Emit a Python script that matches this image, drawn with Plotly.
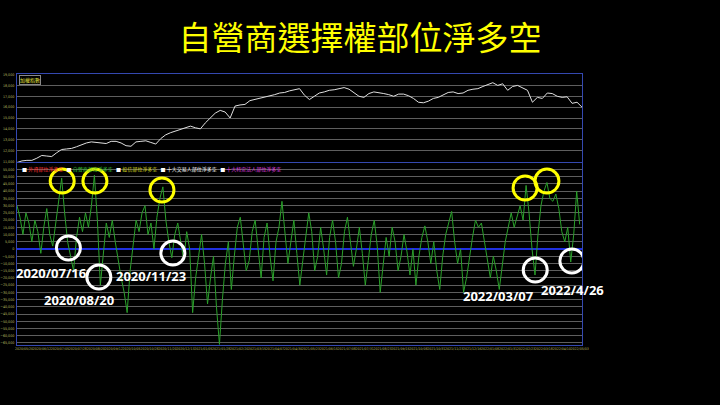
import pandas as pd
import plotly.graph_objects as go
from plotly.subplots import make_subplots

# ---------------- data ----------------
index_start, index_end = "2020-05-11", "2022-05-06"
net_start, net_end = "2020-05-11", "2022-05-03"

index_values = [10900, 11050, 11100, 11100, 11300, 11550, 11500, 11450, 11800, 12100,
                12150, 12200, 12350, 12550, 12700, 12800, 12750, 12700, 12650, 12850,
                12850, 12700, 12450, 12400, 12800, 12850, 12900, 12750, 12600, 13100,
                13450, 13650, 13800, 13950, 14150, 14250, 14100, 14000, 14550, 15000,
                15450, 15700, 15550, 15000, 16100, 16200, 16250, 16600, 16700, 16850,
                16900, 17050, 17150, 17300, 17350, 17500, 17600, 17700, 17100, 16700,
                17000, 17300, 17400, 17550, 17600, 17700, 17800, 17650, 17350, 17000,
                16900, 17250, 17400, 17350, 17250, 17150, 17000, 17200, 17200, 17050,
                16800, 16450, 16400, 16550, 16800, 16900, 17100, 17350, 17400, 17250,
                17300, 17550, 17650, 17700, 17900, 18100, 18250, 18000, 18150, 17550,
                17900, 18000, 17800, 17550, 16450, 16900, 16800, 17300, 17250, 17000,
                16900, 16950, 16350, 16450, 16000]

dealer_net = [30000, 22000, 10000, 25000, 18000, 5000, 20000, 12000, -3000, 15000,
              28000, 10000, 2000, 18000, 30000, 49000, 25000, 5000, -5000, -15000,
              8000, 22000, 12000, 25000, 15000, 30000, 51000, 20000, -25000, -5000,
              18000, 8000, 20000, 5000, -8000, -20000, -30000, -44000, -15000, 5000,
              20000, 12000, 25000, 30000, 10000, 18000, 0, 22000, 35000, 43000,
              20000, 5000, -6000, 10000, 18000, 5000, -8000, 12000, 0, -44000,
              -20000, -5000, 10000, -10000, -38000, -20000, -5000, -40000, -66000, -35000,
              -10000, 5000, -28000, -5000, 15000, 22000, 5000, -15000, -8000, 12000,
              20000, 0, -20000, 8000, 18000, -5000, -22000, 5000, 15000, 33000,
              10000, -10000, 5000, 20000, -3000, -25000, -8000, 10000, 25000, 12000,
              -15000, -5000, 15000, 0, -18000, 8000, 20000, 5000, -20000, -10000,
              12000, 22000, 5000, -12000, 0, 15000, -3000, -25000, -8000, 10000,
              20000, 2000, -30000, -12000, 8000, -5000, 15000, 5000, -15000, -5000,
              10000, -2000, -18000, 0, -25000, -5000, 8000, 16000, 5000, -10000,
              5000, -15000, -28000, -5000, 10000, 18000, 26000, 5000, -10000, 0,
              -30000, -20000, -5000, 8000, 20000, 15000, 18000, 5000, -10000, -20000,
              -5000, -15000, -28000, -10000, 5000, 15000, 25000, 15000, 22000, 30000,
              20000, 44000, 25000, 0, -18000, 10000, 30000, 40000, 46000, 35000,
              33000, 38000, 28000, 12000, 5000, 15000, -9000, 10000, 40000, 17000]

yellow_dates = ["2020-07-08", "2020-08-19", "2020-11-13", "2022-02-22", "2022-03-22"]
yellow_vals = [47000, 47000, 40800, 42200, 47000]
white_dates = ["2020-07-16", "2020-08-24", "2020-11-27", "2022-03-07", "2022-04-23"]
white_vals = [700, -19400, -2800, -14500, -8300]
note_texts = ["2020/07/16", "2020/08/20", "2020/11/23", "2022/03/07", "2022/4/26"]
note_dates = ["2020-06-24", "2020-07-30", "2020-10-30", "2022-01-19", "2022-04-24"]
note_vals = [-16600, -35300, -18700, -32500, -28400]

index_ticks = [11000, 12000, 13000, 14000, 15000, 16000, 17000, 18000, 19000]
net_ticks = list(range(-65000, 60000, 5000))

legend_items = [("#ff3030", "外資部位淨多空"), ("#30c030", "自營商部位淨多空"),
                ("#d8d820", "投信部位淨多空"), ("#ffffff", "十大交易人部位淨多空"),
                ("#e040e0", "十大特定法人部位淨多空")]

# ---------------- figure ----------------
idx_dates = pd.date_range(index_start, index_end, periods=len(index_values))
net_dates = pd.date_range(net_start, net_end, periods=len(dealer_net))

fig = make_subplots(rows=2, cols=1, shared_xaxes=True, vertical_spacing=0)
fig.add_trace(go.Scatter(x=idx_dates, y=index_values, mode="lines",
                         line=dict(color="#e0e0e0", width=1), showlegend=False), row=1, col=1)
fig.add_trace(go.Scatter(x=net_dates, y=dealer_net, mode="lines",
                         line=dict(color="#2aa02a", width=1), showlegend=False), row=2, col=1)

narrow = "Liberation Sans Narrow, DejaVu Sans Condensed, Arial"
tickfont = dict(family=narrow, size=3.6, color="#b8b860")
axis_line = "#3448b0"

fig.update_xaxes(range=[index_start, index_end], showgrid=False, showline=True,
                 linecolor=axis_line, mirror=True, zeroline=False)
fig.update_xaxes(showticklabels=False, row=1, col=1)
fig.update_xaxes(showticklabels=True, tickfont=dict(family=narrow, size=3.5, color="#b8b860"),
                 tickformat="%Y/%m/%d", dtick=23 * 86400000, tick0="2020-05-20", ticks="",
                 tickangle=0, row=2, col=1)

fig.update_yaxes(domain=[0.6753, 1.0], range=[10950, 19050], tickvals=index_ticks,
                 tickformat=",d", tickfont=tickfont, showgrid=True, gridcolor="#5e5e5e",
                 gridwidth=1, showline=True, linecolor=axis_line, mirror=True,
                 zeroline=False, ticks="", automargin=False, ticklabelstandoff=1,
                 row=1, col=1)
fig.update_yaxes(domain=[0.0, 0.6716], range=[-66400, 59500], tickvals=net_ticks,
                 tickformat=",d", tickfont=tickfont, showgrid=True, gridcolor="#5e5e5e",
                 gridwidth=1, showline=True, linecolor=axis_line, mirror=True,
                 zeroline=True, zerolinecolor="#2030e0", zerolinewidth=2, ticks="",
                 automargin=False, ticklabelstandoff=1, row=2, col=1)

shapes = []
for d, v in zip(yellow_dates, yellow_vals):
    shapes.append(dict(type="circle", xref="x2", yref="y2", xsizemode="pixel",
                       ysizemode="pixel", xanchor=d, yanchor=v, x0=-12, x1=12,
                       y0=-12, y1=12, line=dict(color="#ffff00", width=3)))
for d, v in zip(white_dates, white_vals):
    shapes.append(dict(type="circle", xref="x2", yref="y2", xsizemode="pixel",
                       ysizemode="pixel", xanchor=d, yanchor=v, x0=-12, x1=12,
                       y0=-12, y1=12, line=dict(color="#ffffff", width=3)))

annotations = []
for t, d, v in zip(note_texts, note_dates, note_vals):
    annotations.append(dict(text=t, x=d, y=v, xref="x2", yref="y2", showarrow=False,
                            font=dict(family="Open Sans", size=13, color="#ffffff",
                                      weight="bold"),
                            xanchor="center", yanchor="middle"))

leg_text = "&nbsp;&nbsp;&nbsp;".join(
    f"<span style='color:#ffffff'>■</span> <span style='color:{c}'>{n}</span>" for c, n in legend_items)
annotations.append(dict(text=leg_text, x=0.005, y=0.648, xref="paper", yref="paper",
                        showarrow=False, xanchor="left", yanchor="middle",
                        font=dict(family="Noto Sans CJK TC", size=5, color="#ffffff")))
annotations.append(dict(text="加權指數", x=0.003, y=0.995, xref="paper", yref="paper",
                        showarrow=False, xanchor="left", yanchor="top", borderpad=0,
                        bordercolor="#888888", borderwidth=1,
                        font=dict(family="Noto Sans CJK TC", size=5, color="#e0e040")))

fig.update_layout(
    width=720, height=405,
    paper_bgcolor="#000000", plot_bgcolor="#000000",
    margin=dict(l=17, r=138, t=74, b=60),
    title=dict(text="自營商選擇權部位淨多空", x=0.5, xanchor="center", y=0.905, yanchor="middle",
               font=dict(family="Noto Sans CJK TC", size=33, color="#ffff00")),
    shapes=shapes, annotations=annotations, showlegend=False,
)

fig.write_html("out.html", config={"displayModeBar": False},
               post_script="document.body.style.margin='0';document.body.style.background='#000';")
